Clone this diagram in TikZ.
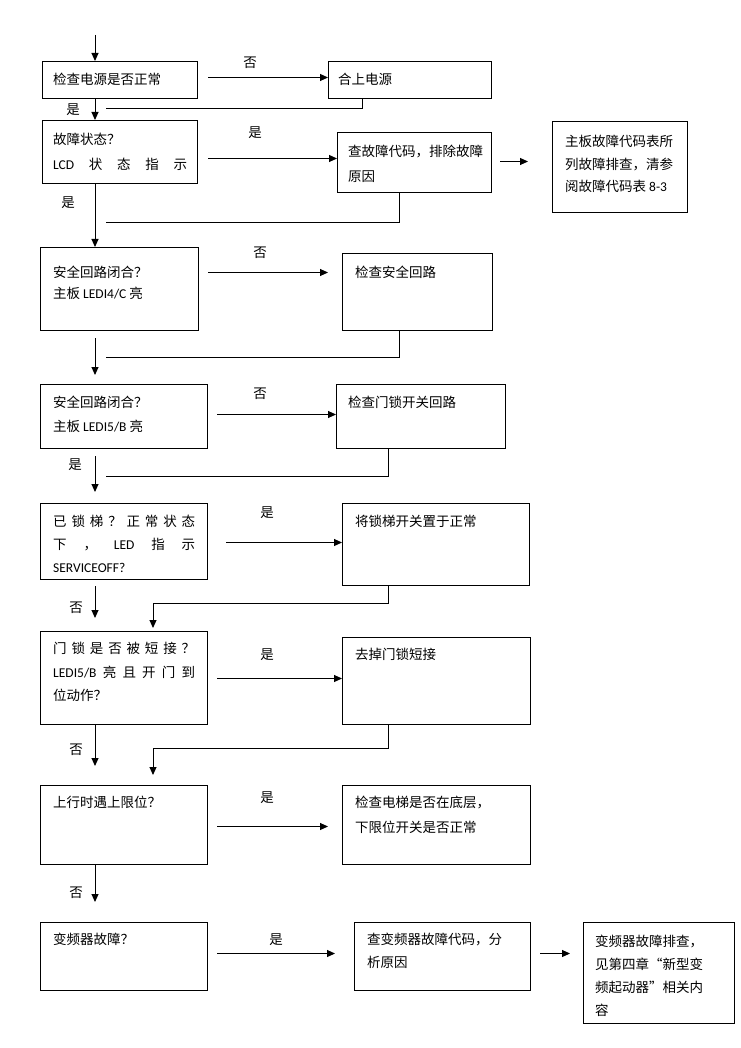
\documentclass[tikz,border=0pt]{standalone}
\usepackage{fontspec}
\setmainfont{Noto Sans CJK SC}
\newfontfamily\lat{Carlito}
\usetikzlibrary{arrows.meta,calc}
\newcommand\spreadline[2][142pt]{\makebox[#1][s]{#2}}

\begin{document}
\begin{tikzpicture}[x=1pt,y=-1pt,
		box/.style={draw,line width=1pt,anchor=north west,inner sep=0pt},
		txt/.style={anchor=north west,inner sep=0pt,align=left,font=\fontsize{13.5}{#1}\selectfont},
		txt/.default=23,
		lbl/.style={inner sep=0pt,font=\fontsize{13.5}{16}\selectfont},
		arr/.style={line width=1pt,-{Triangle[length=8pt,width=7pt]}},
		ln/.style={line width=1pt}]
	\useasboundingbox (0,0) rectangle (740,1048);

	% left column
	\node[box,minimum width=155,minimum height=37] (b1) at(42,61){};
	\node[box,minimum width=155,minimum height=63] (b2) at(42,120){};
	\node[box,minimum width=158,minimum height=83] (b3) at(40,247){};
	\node[box,minimum width=167,minimum height=64] (b4) at(40,384){};
	\node[box,minimum width=167,minimum height=76] (b5) at(40,503){};
	\node[box,minimum width=167,minimum height=93] (b6) at(40,631){};
	\node[box,minimum width=167,minimum height=79] (b7) at(40,785){};
	\node[box,minimum width=167,minimum height=68] (b8) at(40,922){};

	% right column
	\node[box,minimum width=163,minimum height=37] (n1) at(328,61){};
	\node[box,minimum width=154,minimum height=60] (n2) at(337,132){};
	\node[box,minimum width=135,minimum height=91] (n2b) at(552,121){};
	\node[box,minimum width=150,minimum height=77] (n3) at(342,253){};
	\node[box,minimum width=169,minimum height=64] (n4) at(336,384){};
	\node[box,minimum width=187,minimum height=82] (n5) at(342,503){};
	\node[box,minimum width=188,minimum height=87] (n6) at(342,637){};
	\node[box,minimum width=188,minimum height=79] (n7) at(342,785){};
	\node[box,minimum width=176,minimum height=68] (n8) at(354,922){};
	\node[box,minimum width=151,minimum height=101] (n8b) at(583,922){};

	% texts
	\node[txt] (tb1) at(53,73){检查电源是否正常};
	\node[txt=25] (tb2) at(53,133){故障状态？\\\spreadline[134pt]{{\lat LCD} 状 态 指 示}};
	\node[txt=21] (tb3) at(53,266){安全回路闭合？\\主板 {\lat LEDI4/C} 亮};
	\node[txt=24] (tb4) at(53,396){安全回路闭合？\\主板 {\lat LEDI5/B} 亮};
	\node[txt] (tb5) at(53,515){\spreadline{已 锁 梯 ？ 正 常 状 态}\\\spreadline{下 ， {\lat LED} 指 示}\\{\lat SERVICEOFF?}};
	\node[txt=23.5] (tb6) at(53,642){\spreadline{门 锁 是 否 被 短 接 ？}\\\spreadline{{\lat LEDI5/B} 亮 且 开 门 到}\\位动作？};
	\node[txt] (tb7) at(53,796){上行时遇上限位？};
	\node[txt] (tb8) at(53,933){变频器故障？};

	\node[txt] (tn1) at(338,73){合上电源};
	\node[txt=25] (tn2) at(348,145){查故障代码，排除故障\\原因};
	\node[txt=22.5] (tn2b) at(565,135){主板故障代码表所\\列故障排查，清参\\阅故障代码表 {\lat 8-3}};
	\node[txt] (tn3) at(355,266){检查安全回路};
	\node[txt] (tn4) at(348,396){检查门锁开关回路};
	\node[txt] (tn5) at(355,515){将锁梯开关置于正常};
	\node[txt] (tn6) at(355,648){去掉门锁短接};
	\node[txt=25] (tn7) at(355,796){检查电梯是否在底层，\\下限位开关是否正常};
	\node[txt] (tn8) at(367,933){查变频器故障代码，分\\析原因};
	\node[txt] (tn8b) at(595,935){变频器故障排查，\\见第四章“新型变\\频起动器”相关内\\容};

	% yes / no
	\node[lbl] (l1) at(250,63){否};
	\node[lbl] (l2) at(73,110){是};
	\node[lbl] (l3) at(255,133){是};
	\node[lbl] (l4) at(68,203){是};
	\node[lbl] (l5) at(260,253){否};
	\node[lbl] (l6) at(260,394){否};
	\node[lbl] (l7) at(75,465){是};
	\node[lbl] (l8) at(267,513){是};
	\node[lbl] (l9) at(76,608){否};
	\node[lbl] (l10) at(267,655){是};
	\node[lbl] (l11) at(76,750){否};
	\node[lbl] (l12) at(267,798){是};
	\node[lbl] (l13) at(76,893){否};
	\node[lbl] (l14) at(276,940){是};

	\coordinate (sp) at(95,0);
	\coordinate (in) at(95,35);
	\coordinate (r1) at(106,109);
	\coordinate (r2) at(106,223);
	\coordinate (r3) at(106,357);
	\coordinate (r4) at(106,476);

	% down the spine
	\draw[arr] (in) to (sp |- b1.north);
	\draw[arr] (sp |- b1.south) to (sp |- b2.north);
	\draw[arr] (sp |- b2.south) to (sp |- b3.north);
	\draw[arr] ($(sp |- b3.south)+(0,7)$) to ($(sp |- b4.north)+(0,-9)$);
	\draw[arr] ($(sp |- b4.south)+(0,7)$) to ($(sp |- b5.north)+(0,-11)$);
	\draw[arr] ($(sp |- b5.south)+(0,6)$) to ($(sp |- b6.north)+(0,-13)$);
	\draw[arr] (sp |- b6.south) to ($(sp |- b7.north)+(0,-19)$);
	\draw[arr] (sp |- b7.south) to ($(sp |- b8.north)+(0,-20)$);

	% across
	\draw[arr] ([shift={(10,-2.5)}]b1.east) coordinate (a1) to (a1 -| n1.west);
	\draw[arr] ([shift={(10,6.5)}]b2.east) coordinate (a2) to (a2 -| n2.west);
	\draw[arr] ([shift={(8,-1)}]n2.east) coordinate (a3) to ($(a3 -| n2b.west)+(-24,0)$);
	\draw[arr] ([shift={(9,-16.5)}]b3.east) coordinate (a4) to ($(a4 -| n3.west)+(-14,0)$);
	\draw[arr] ([shift={(9,-2)}]b4.east) coordinate (a5) to (a5 -| n4.west);
	\draw[arr] ([shift={(18,1)}]b5.east) coordinate (a6) to (a6 -| n5.west);
	\draw[arr] ([shift={(9,0.5)}]b6.east) coordinate (a7) to (a7 -| n6.west);
	\draw[arr] ([shift={(9,1.5)}]b7.east) coordinate (a8) to ($(a8 -| n7.west)+(-14,0)$);
	\draw[arr] ([shift={(9,-3)}]b8.east) coordinate (a9) to ($(a9 -| n8.west)+(-19,0)$);
	\draw[arr] ([shift={(9,-3)}]n8.east) coordinate (a10) to ($(a10 -| n8b.west)+(-13,0)$);

	% back
	\draw[ln] ([shift={(34,0)}]n1.south west) |- (r1);
	\draw[ln] ([shift={(62,0)}]n2.south west) |- (r2);
	\draw[ln] ([shift={(57,0)}]n3.south west) |- (r3);
	\draw[ln] ([shift={(52,0)}]n4.south west) |- (r4);
	\draw[arr] ([shift={(46,0)}]n5.south west) -- ++(0,17) -| ($(b6.north west)+(113,-3)$);
	\draw[arr] ([shift={(46,0)}]n6.south west) -- ++(0,23) -| ($(b7.north west)+(113,-10)$);
\end{tikzpicture}
\end{document}
